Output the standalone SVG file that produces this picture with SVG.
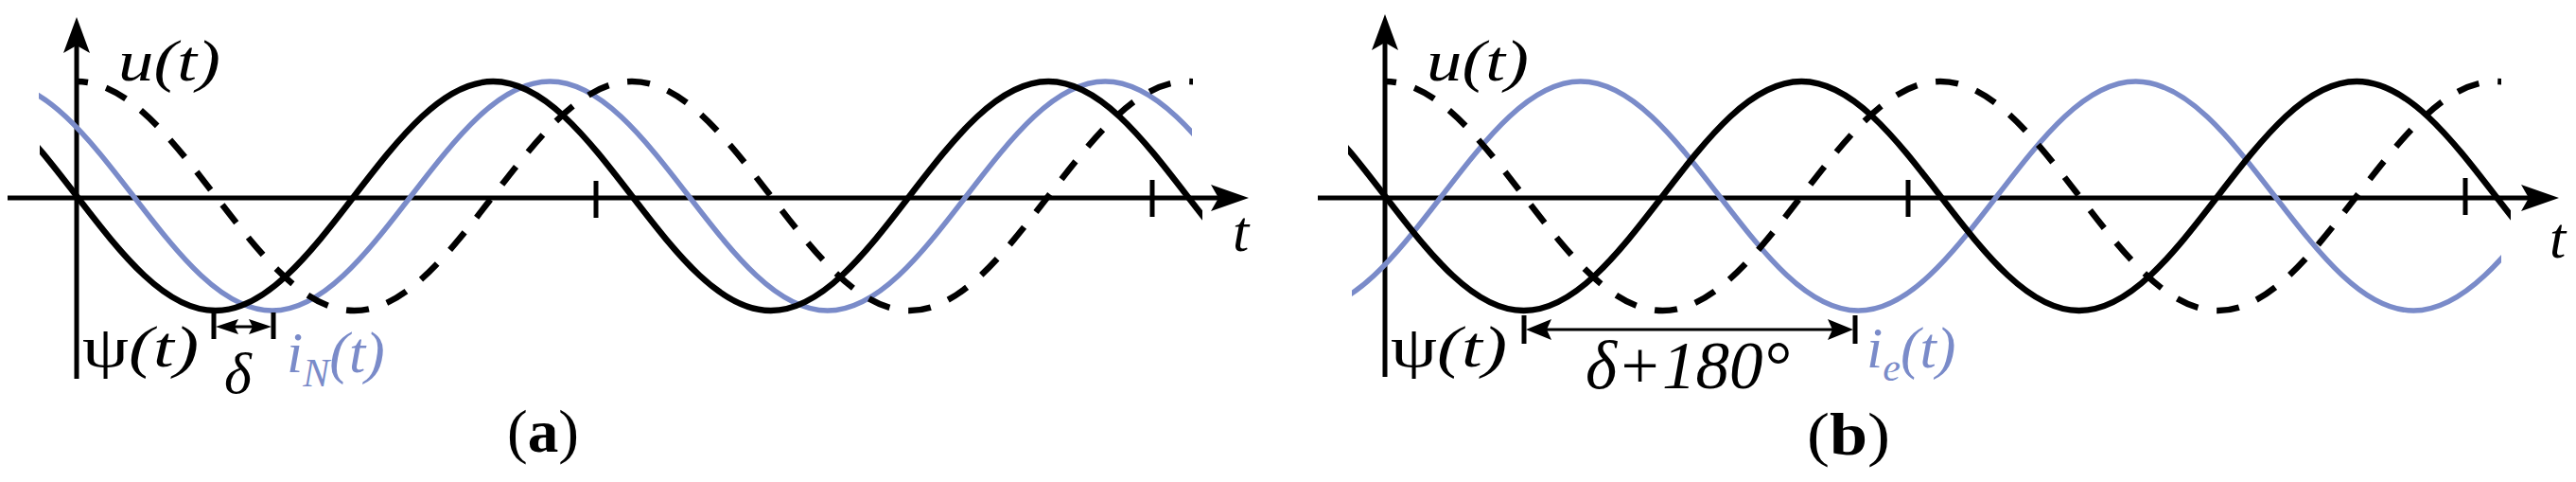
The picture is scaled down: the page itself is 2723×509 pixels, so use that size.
<svg xmlns="http://www.w3.org/2000/svg" width="2723" height="509" viewBox="0 0 2723 509">
<style>
.ax{stroke:#000;stroke-width:5;fill:none}
.bk{stroke:#000;stroke-width:6.5;fill:none}
.bl{stroke:#7a8bc9;stroke-width:5.5;fill:none}
.ds{stroke:#000;stroke-width:6.5;fill:none;stroke-dasharray:24 20;stroke-dashoffset:12}
.ah{fill:#000}
text{font-family:"Liberation Serif","DejaVu Serif",serif;fill:#000}
.it{font-style:italic}
.blt{fill:#7a8bc9}
</style>
<defs>
<clipPath id="cBk"><rect x="42" y="0" width="1229" height="509"/></clipPath>
<clipPath id="cBl"><rect x="41" y="0" width="1219" height="509"/></clipPath>
<clipPath id="cDs"><rect x="81" y="0" width="1180" height="509"/></clipPath>
<clipPath id="cBlb"><rect x="46" y="0" width="1215" height="509"/></clipPath>
</defs>

<g id="panel-a">
 <g id="axes-a">
  <line class="ax" x1="81" y1="400" x2="81" y2="45"/>
  <polygon class="ah" points="81,18 67,56 81,48 95,56"/>
  <line class="ax" x1="8" y1="209" x2="1290" y2="209"/>
  <polygon class="ah" points="1320,209 1280,195 1288,209 1280,223"/>
  <line class="ax" x1="630" y1="191" x2="630" y2="230"/>
  <line class="ax" x1="1218" y1="190" x2="1218" y2="229"/>
 </g>
 <g id="curves-a">
  <path class="bl" clip-path="url(#cBl)" d="M-5.75,86 c53.1,0 98.9,59 146.75,121 c47.86,62 93.64,121 146.75,121 c53.1,0 98.9,-59 146.75,-121 c47.86,-62 93.64,-121 146.75,-121 c53.1,0 98.9,59 146.75,121 c47.86,62 93.64,121 146.75,121 c53.1,0 98.9,-59 146.75,-121 c47.86,-62 93.64,-121 146.75,-121 c53.1,0 98.9,59 146.75,121 c47.86,62 93.64,121 146.75,121 c53.1,0 98.9,-59 146.75,-121 c47.86,-62 93.64,-121 146.75,-121"/>
  <path class="ds" clip-path="url(#cDs)" d="M81,86 c53.1,0 98.9,59 146.75,121 c47.86,62 93.64,121 146.75,121 c53.1,0 98.9,-59 146.75,-121 c47.86,-62 93.64,-121 146.75,-121 c53.1,0 98.9,59 146.75,121 c47.86,62 93.64,121 146.75,121 c53.1,0 98.9,-59 146.75,-121 c47.86,-62 93.64,-121 146.75,-121 c53.1,0 98.9,59 146.75,121"/>
  <path class="bk" clip-path="url(#cBk)" d="M-65.75,86 c53.1,0 98.9,59 146.75,121 c47.86,62 93.64,121 146.75,121 c53.1,0 98.9,-59 146.75,-121 c47.86,-62 93.64,-121 146.75,-121 c53.1,0 98.9,59 146.75,121 c47.86,62 93.64,121 146.75,121 c53.1,0 98.9,-59 146.75,-121 c47.86,-62 93.64,-121 146.75,-121 c53.1,0 98.9,59 146.75,121 c47.86,62 93.64,121 146.75,121 c53.1,0 98.9,-59 146.75,-121 c47.86,-62 93.64,-121 146.75,-121"/>
 </g>
 <g id="delta-a">
  <line class="ax" x1="226" y1="330" x2="226" y2="358"/>
  <line class="ax" x1="289" y1="330" x2="289" y2="358"/>
  <line stroke="#000" stroke-width="3" x1="240" y1="345" x2="275" y2="345"/>
  <polygon class="ah" points="228,345 252,337 248,345 252,353"/>
  <polygon class="ah" points="287,345 263,337 267,345 263,353"/>
 </g>
 <text x="125" y="85" font-size="62" class="it" textLength="108" lengthAdjust="spacingAndGlyphs">u(t)</text>
 <text x="87" y="387" font-size="62" textLength="123" lengthAdjust="spacingAndGlyphs">ψ<tspan class="it">(t)</tspan></text>
 <text x="237" y="415" font-size="62" class="it">δ</text>
 <text x="303" y="393" font-size="62" class="it blt">i<tspan font-size="42" dy="15">N</tspan><tspan dy="-15">(t)</tspan></text>
 <text x="1303" y="265" font-size="62" class="it">t</text>
 <text x="536" y="477" font-size="64" textLength="76" lengthAdjust="spacingAndGlyphs">(<tspan font-weight="bold">a</tspan>)</text>
</g>

<g id="panel-b">
 <g id="axes-b">
  <line class="ax" x1="1464" y1="398" x2="1464" y2="42"/>
  <polygon class="ah" points="1464,15 1450,53 1464,45 1478,53"/>
  <line class="ax" x1="1393" y1="209" x2="2675" y2="209"/>
  <polygon class="ah" points="2705,209 2665,195 2673,209 2665,223"/>
  <line class="ax" x1="2017" y1="190" x2="2017" y2="229"/>
  <line class="ax" x1="2606" y1="188" x2="2606" y2="227"/>
 </g>
 <g id="curves-b" transform="translate(1383,0)">
  <path class="bl" clip-path="url(#cBlb)" d="M-299.25,86 c53.1,0 98.9,59 146.75,121 c47.86,62 93.64,121 146.75,121 c53.1,0 98.9,-59 146.75,-121 c47.86,-62 93.64,-121 146.75,-121 c53.1,0 98.9,59 146.75,121 c47.86,62 93.64,121 146.75,121 c53.1,0 98.9,-59 146.75,-121 c47.86,-62 93.64,-121 146.75,-121 c53.1,0 98.9,59 146.75,121 c47.86,62 93.64,121 146.75,121 c53.1,0 98.9,-59 146.75,-121 c47.86,-62 93.64,-121 146.75,-121"/>
  <path class="ds" clip-path="url(#cDs)" d="M81,86 c53.1,0 98.9,59 146.75,121 c47.86,62 93.64,121 146.75,121 c53.1,0 98.9,-59 146.75,-121 c47.86,-62 93.64,-121 146.75,-121 c53.1,0 98.9,59 146.75,121 c47.86,62 93.64,121 146.75,121 c53.1,0 98.9,-59 146.75,-121 c47.86,-62 93.64,-121 146.75,-121 c53.1,0 98.9,59 146.75,121"/>
  <path class="bk" clip-path="url(#cBk)" d="M-65.75,86 c53.1,0 98.9,59 146.75,121 c47.86,62 93.64,121 146.75,121 c53.1,0 98.9,-59 146.75,-121 c47.86,-62 93.64,-121 146.75,-121 c53.1,0 98.9,59 146.75,121 c47.86,62 93.64,121 146.75,121 c53.1,0 98.9,-59 146.75,-121 c47.86,-62 93.64,-121 146.75,-121 c53.1,0 98.9,59 146.75,121 c47.86,62 93.64,121 146.75,121 c53.1,0 98.9,-59 146.75,-121 c47.86,-62 93.64,-121 146.75,-121"/>
 </g>
 <g id="delta-b">
  <line class="ax" x1="1611" y1="333" x2="1611" y2="363"/>
  <line class="ax" x1="1961" y1="333" x2="1961" y2="363"/>
  <line stroke="#000" stroke-width="3" x1="1630" y1="348" x2="1942" y2="348"/>
  <polygon class="ah" points="1613,348 1640,337 1635,348 1640,359"/>
  <polygon class="ah" points="1959,348 1932,337 1937,348 1932,359"/>
 </g>
 <text x="1508" y="85" font-size="62" class="it" textLength="108" lengthAdjust="spacingAndGlyphs">u(t)</text>
 <text x="1470" y="387" font-size="62" textLength="123" lengthAdjust="spacingAndGlyphs">ψ<tspan class="it">(t)</tspan></text>
 <text x="1676" y="410" font-size="72" class="it" textLength="216" lengthAdjust="spacingAndGlyphs">δ+180°</text>
 <text x="1973" y="388" font-size="62" class="it blt">i<tspan font-size="42" dy="14">e</tspan><tspan dy="-14">(t)</tspan></text>
 <text x="2695" y="272" font-size="62" class="it">t</text>
 <text x="1910" y="480" font-size="64" textLength="88" lengthAdjust="spacingAndGlyphs">(<tspan font-weight="bold">b</tspan>)</text>
</g>
</svg>
